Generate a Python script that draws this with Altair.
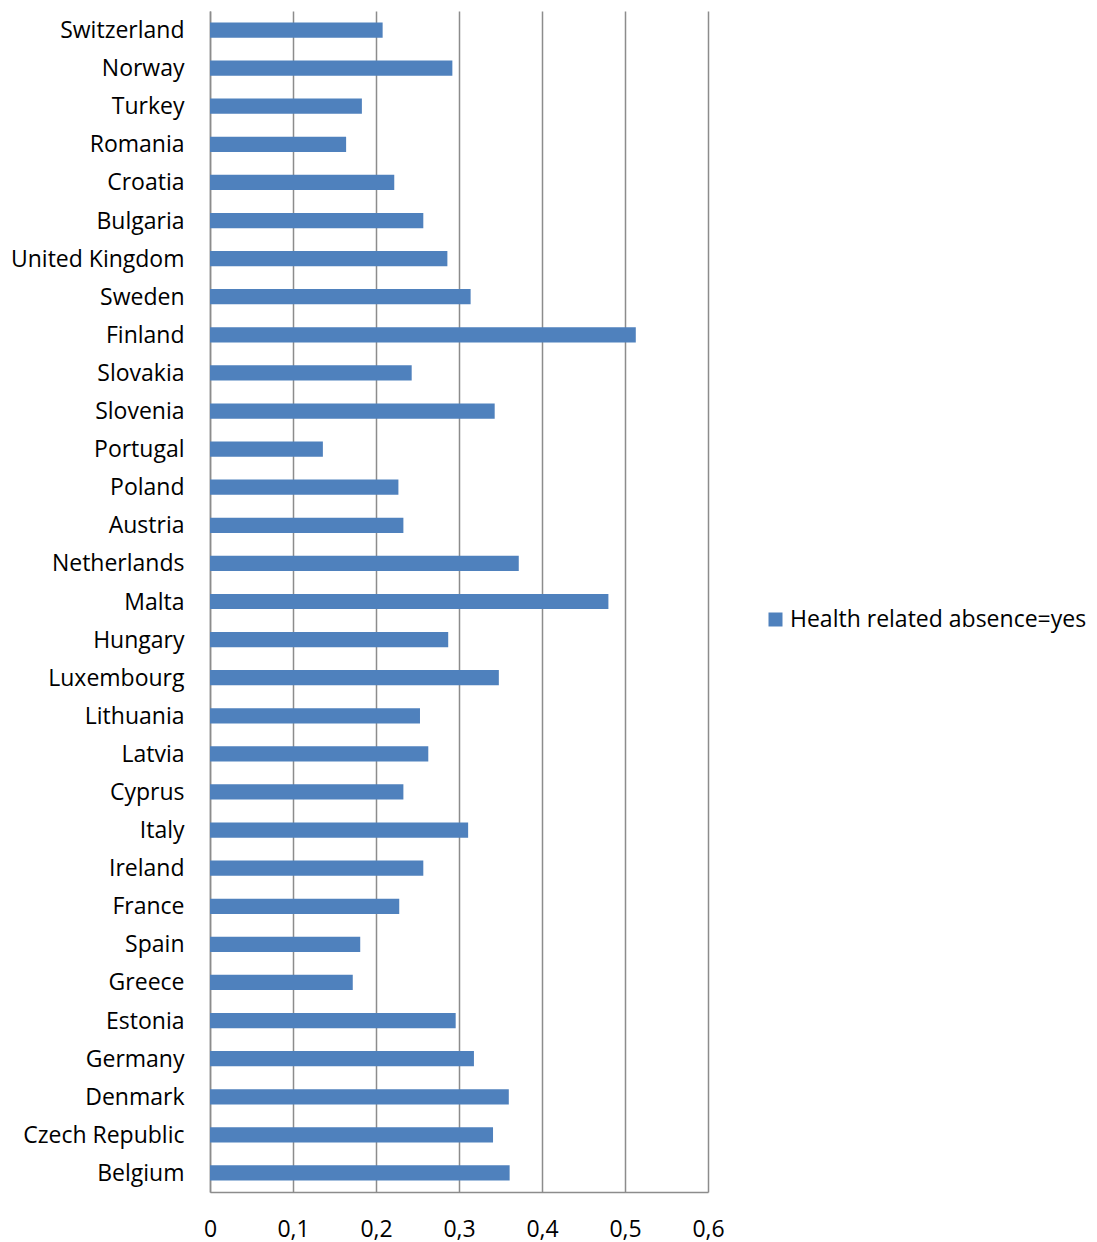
import altair as alt
import pandas as pd

countries = ["Switzerland", "Norway", "Turkey", "Romania", "Croatia", "Bulgaria",
             "United Kingdom", "Sweden", "Finland", "Slovakia", "Slovenia", "Portugal",
             "Poland", "Austria", "Netherlands", "Malta", "Hungary", "Luxembourg",
             "Lithuania", "Latvia", "Cyprus", "Italy", "Ireland", "France", "Spain",
             "Greece", "Estonia", "Germany", "Denmark", "Czech Republic", "Belgium"]
values = [0.208, 0.292, 0.183, 0.164, 0.222, 0.257,
          0.286, 0.314, 0.513, 0.243, 0.343, 0.136,
          0.227, 0.233, 0.372, 0.480, 0.287, 0.348,
          0.253, 0.263, 0.233, 0.311, 0.257, 0.228, 0.181,
          0.172, 0.296, 0.318, 0.360, 0.341, 0.361]
series_name = "Health related absence=yes"

df = pd.DataFrame({"country": countries, "value": values, "series": series_name})

FONT = "Open Sans"
FS = 23
GRID = "#8c8c8c"

chart = alt.Chart(df).mark_bar(color="#4F81BD").encode(
    y=alt.Y("country:N", sort=countries, title=None,
            scale=alt.Scale(paddingInner=0.6, paddingOuter=0.3),
            axis=alt.Axis(ticks=False, labelPadding=26, labelFontSize=FS, labelFont=FONT,
                          labelOffset=1,
                          labelColor="#000000", domainColor=GRID, domainWidth=1.5,
                          grid=False)),
    x=alt.X("value:Q", title=None,
            scale=alt.Scale(domain=[0, 0.6], nice=False),
            axis=alt.Axis(values=[0, 0.1, 0.2, 0.3, 0.4, 0.5, 0.6], ticks=False,
                          labelPadding=26, labelFontSize=FS, labelFont=FONT,
                          labelFlush=False,
                          labelColor="#000000", domainColor=GRID, domainWidth=1.5,
                          grid=True, gridColor=GRID, gridWidth=1.5, gridOpacity=1,
                          labelExpr="datum.value == 0 ? '0' : replace(format(datum.value, '.1f'), '.', ',')")),
    color=alt.Color("series:N", title=None,
                    scale=alt.Scale(range=["#4F81BD"]),
                    legend=alt.Legend(orient="none", legendX=554, legendY=597,
                                      symbolType="square", symbolSize=196,
                                      symbolStrokeWidth=0, labelFontSize=FS,
                                      labelFont=FONT, labelColor="#000000",
                                      labelOffset=3,
                                      labelLimit=400, symbolOffset=0)),
).properties(
    width=498, height=1181,
    autosize=alt.AutoSizeParams(type="none"),
    padding={"left": 210, "top": 11, "right": 389, "bottom": 50},
).configure_view(stroke=None)

chart.save("out.html", embed_options={"renderer": "svg", "actions": False})
